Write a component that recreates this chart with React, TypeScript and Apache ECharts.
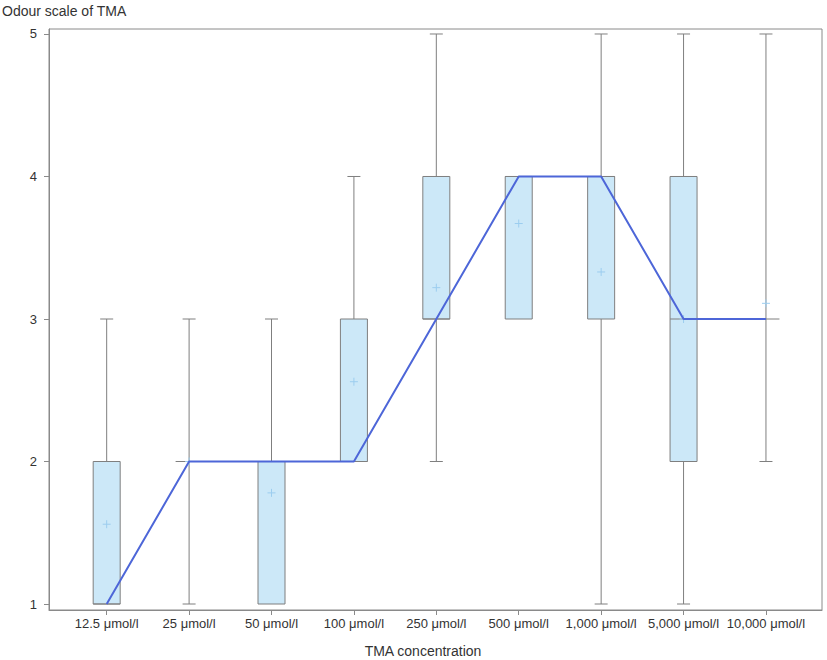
import React, { useEffect, useRef } from "react";
import * as echarts from "echarts";

const categories = [
  "12.5 μmol/l", "25 μmol/l", "50 μmol/l", "100 μmol/l", "250 μmol/l",
  "500 μmol/l", "1,000 μmol/l", "5,000 μmol/l", "10,000 μmol/l",
];
const mins = [1, 1, 1, 2, 2, 3, 1, 1, 2];
const q1s = [1, 2, 1, 2, 3, 3, 3, 2, 3];
const medians = [1, 2, 2, 2, 3, 4, 4, 3, 3];
const q3s = [2, 2, 2, 3, 4, 4, 4, 4, 3];
const maxs = [3, 3, 3, 4, 5, 4, 5, 5, 5];
const means = [1.56, 2.0, 1.78, 2.56, 3.22, 3.67, 3.33, 3.0, 3.11];
const yTicks = [1, 2, 3, 4, 5];

const AXIS_GRAY = "#8a8a8a";
const BOX_STROKE = "#7f7f7f";
const BOX_FILL = "#cce8f8";
const MEAN_COLOR = "#9ccdef";
const LINE_BLUE = "#4d66d8";
const FONT = "Liberation Sans, Arial, sans-serif";

export default function App() {
  const ref = useRef<HTMLDivElement>(null);
  useEffect(() => {
    if (!ref.current) return;
    const chart = echarts.init(ref.current, undefined, { renderer: "svg" });
    const boxData = categories.map((_, i) => [i, mins[i], q1s[i], medians[i], q3s[i], maxs[i], means[i]]);
    const idx = categories.map((_, i) => i);
    chart.setOption({
      animation: false,
      textStyle: { fontFamily: FONT },
      grid: {
        left: 49, right: 5, top: 29, bottom: 50,
        show: true, borderColor: AXIS_GRAY, borderWidth: 1, backgroundColor: "transparent",
      },
      graphic: [
        { type: "text", left: 2, top: 4, style: { text: "Odour scale of TMA", fontSize: 14, fill: "#333", fontFamily: FONT } },
        { type: "text", x: 423, y: 651, style: { text: "TMA concentration", fontSize: 14, fill: "#333", fontFamily: FONT, align: "center", verticalAlign: "middle" } },
      ],
      xAxis: {
        type: "value", min: -0.7, max: 8.68,
        axisLine: { show: true, onZero: false, lineStyle: { color: AXIS_GRAY } },
        axisTick: { show: true, length: 5, customValues: idx, lineStyle: { color: AXIS_GRAY } },
        axisLabel: {
          customValues: idx, color: "#333", fontSize: 13, margin: 7,
          formatter: (v: number) => categories[Math.round(v)] ?? "",
        },
        splitLine: { show: false },
      },
      yAxis: {
        type: "value", min: 0.958, max: 5.035,
        axisLine: { show: true, onZero: false, lineStyle: { color: AXIS_GRAY } },
        axisTick: { show: true, length: 5, customValues: yTicks, lineStyle: { color: AXIS_GRAY } },
        axisLabel: { customValues: yTicks, color: "#333", fontSize: 13, margin: 12, formatter: (v: number) => String(v) },
        splitLine: { show: false },
      },
      series: [
        {
          type: "custom",
          data: boxData,
          encode: { x: 0, y: [1, 2, 3, 4, 5] },
          renderItem: (params: any, api: any) => {
            const x = api.value(0);
            const mn = api.value(1), q1 = api.value(2), md = api.value(3), q3 = api.value(4), mx = api.value(5), mean = api.value(6);
            const cx = api.coord([x, mn])[0];
            const yMin = api.coord([x, mn])[1];
            const yQ1 = api.coord([x, q1])[1];
            const yMd = api.coord([x, md])[1];
            const yQ3 = api.coord([x, q3])[1];
            const yMx = api.coord([x, mx])[1];
            const yMean = api.coord([x, mean])[1];
            const hw = 13.5, cw = 6.5;
            const line = { stroke: BOX_STROKE, lineWidth: 1 };
            const children: any[] = [];
            if (mx > q3) {
              children.push({ type: "line", shape: { x1: cx, y1: yQ3, x2: cx, y2: yMx }, style: line });
              children.push({ type: "line", shape: { x1: cx - cw, y1: yMx, x2: cx + cw, y2: yMx }, style: line });
            }
            if (mn < q1) {
              children.push({ type: "line", shape: { x1: cx, y1: yQ1, x2: cx, y2: yMin }, style: line });
              children.push({ type: "line", shape: { x1: cx - cw, y1: yMin, x2: cx + cw, y2: yMin }, style: line });
            }
            if (q3 > q1) {
              children.push({ type: "rect", shape: { x: cx - hw, y: yQ3, width: 2 * hw, height: yQ1 - yQ3 }, style: { fill: BOX_FILL, stroke: BOX_STROKE, lineWidth: 1 } });
            }
            children.push({ type: "line", shape: { x1: cx - hw, y1: yMd, x2: cx + hw, y2: yMd }, style: line });
            children.push({ type: "line", shape: { x1: cx - 4, y1: yMean, x2: cx + 4, y2: yMean }, style: { stroke: MEAN_COLOR, lineWidth: 1 } });
            children.push({ type: "line", shape: { x1: cx, y1: yMean - 4, x2: cx, y2: yMean + 4 }, style: { stroke: MEAN_COLOR, lineWidth: 1 } });
            return { type: "group", children };
          },
          z: 2,
        },
        {
          type: "line",
          data: medians.map((m, i) => [i, m]),
          symbol: "none",
          lineStyle: { color: LINE_BLUE, width: 2 },
          z: 3,
        },
      ],
    });
    return () => chart.dispose();
  }, []);
  return <div ref={ref} style={{ width: 827, height: 660, position: "absolute", left: 0, top: 0 }} />;
}
